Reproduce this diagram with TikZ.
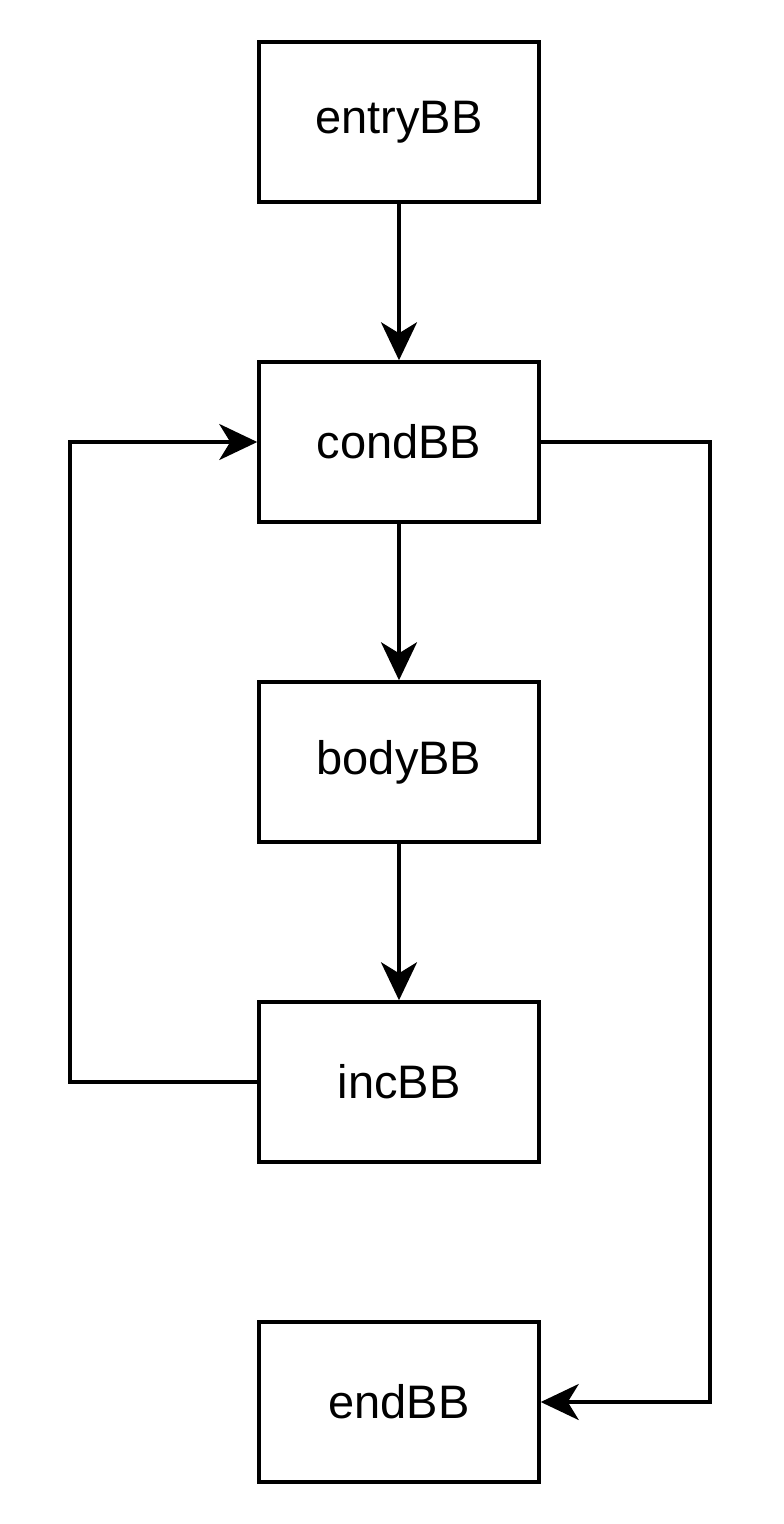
\documentclass[tikz,border=0pt]{standalone}
\usepackage{fontspec}
\setmainfont{Liberation Sans}
\usetikzlibrary{arrows.meta}
\begin{document}
\begin{tikzpicture}[x=1pt,y=-1pt,
  bb/.style={draw=black,line width=3.5pt,minimum width=280pt,minimum height=160pt,inner sep=0pt,font=\fontsize{47}{54}\selectfont},
  conn/.style={draw=black,line width=3.5pt,-{Stealth[length=38pt,width=36pt,inset=11pt]}}]
\useasboundingbox (0,0) rectangle (784,1524);
\node[bb] (entry) at (399,122) {entryBB};
\node[bb] (cond) at (399,442) {condBB};
\node[bb] (body) at (399,762) {bodyBB};
\node[bb] (inc) at (399,1082) {incBB};
\node[bb] (end) at (399,1402) {endBB};
\draw[conn] (entry) -- (cond);
\draw[conn] (cond) -- (body);
\draw[conn] (body) -- (inc);
\draw[conn] (inc.west) -- (70,1082) -- (70,442) -- (cond.west);
\draw[conn] (cond.east) -- (710,442) -- (710,1402) -- (end.east);
\end{tikzpicture}
\end{document}
